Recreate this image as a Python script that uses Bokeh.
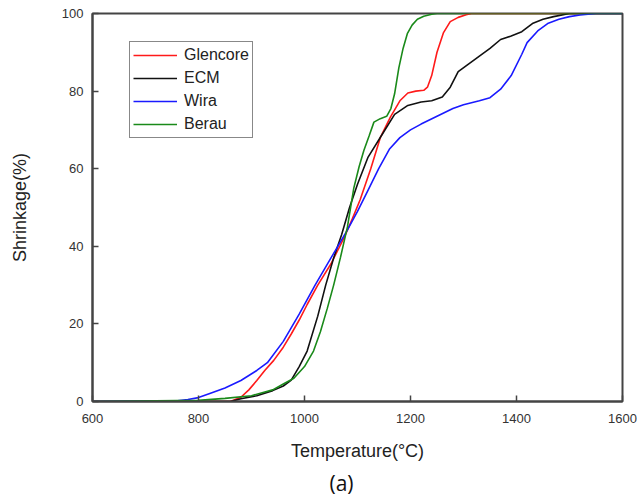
from bokeh.plotting import figure
from bokeh.models import Title, Legend, LegendItem
from bokeh.embed import file_html
from bokeh.resources import INLINE

# ---- data ----
glencore_T = [600, 860, 880, 895, 910, 925, 942, 960, 975, 990, 1005, 1025, 1050, 1075, 1090, 1105,
              1125, 1143, 1162, 1180, 1195, 1210, 1225, 1232, 1240, 1250, 1262, 1275, 1290, 1305, 1315, 1600]
glencore_S = [0, 0, 1.1, 3, 5.4, 8, 10.6, 14, 17.4, 21, 25, 30, 35.5, 42.3, 47, 52,
              60, 68, 73.3, 77.5, 79.5, 80, 80.2, 81, 84, 90, 95, 97.9, 99, 99.7, 100, 100]

ecm_T = [600, 860, 880, 910, 940, 960, 975, 990, 1005, 1025, 1040, 1055, 1070, 1085, 1100, 1120,
         1145, 1170, 1195, 1220, 1240, 1260, 1275, 1290, 1310, 1330, 1350, 1370, 1390, 1410, 1430,
         1450, 1470, 1500, 1600]
ecm_S = [0, 0, 0.7, 1.5, 2.8, 4, 5.5, 9, 13, 22, 30, 37, 43, 50, 56, 63,
         68.5, 74, 76.3, 77.2, 77.5, 78.5, 81, 85, 87, 89, 91, 93.3, 94.2, 95.3, 97.4,
         98.5, 99.2, 100, 100]

wira_T = [600, 760, 780, 800, 820, 850, 880, 910, 930, 960, 990, 1020, 1050, 1080, 1100, 1120,
          1140, 1160, 1180, 1200, 1220, 1250, 1280, 1300, 1330, 1350, 1370, 1390, 1410, 1420,
          1440, 1460, 1480, 1500, 1520, 1550, 1600]
wira_S = [0, 0.2, 0.5, 1.0, 2.0, 3.5, 5.4, 8, 10, 15.5, 22.5, 30, 37, 44, 49, 54.5,
          60, 65, 68, 70, 71.5, 73.5, 75.5, 76.5, 77.5, 78.3, 80.5, 84, 89.5, 92.5,
          95.5, 97.5, 98.5, 99.2, 99.6, 100, 100]

berau_T = [600, 800, 850, 900, 940, 960, 980, 1000, 1017, 1030, 1043, 1055, 1068, 1081, 1093, 1103,
           1112, 1122, 1131, 1143, 1155, 1163, 1170, 1178, 1186, 1194, 1203, 1213, 1225, 1240, 1250, 1600]
berau_S = [0, 0.3, 0.8, 1.5, 3, 4.5, 6, 9, 13, 18, 24, 30, 37.2, 45, 55, 60.5,
           64.7, 68.5, 72, 72.9, 73.5, 75.5, 79.3, 86, 91, 94.8, 97, 98.5, 99.3, 99.8, 100, 100]

series_names = ["Glencore", "ECM", "Wira", "Berau"]
x_ticks = [600, 800, 1000, 1200, 1400, 1600]
y_ticks = [0, 20, 40, 60, 80, 100]

# ---- figure ----
p = figure(width=637, height=499, x_range=(600, 1600), y_range=(0, 100),
           output_backend="svg", toolbar_location=None,
           min_border_left=92, min_border_right=15, min_border_top=13, min_border_bottom=98)

p.grid.visible = False
p.outline_line_color = "#444444"
p.outline_line_width = 2
p.background_fill_color = "white"
p.border_fill_color = "white"

colors = ["#ff1a1a", "#111111", "#1a1aff", "#1a8a1a"]
data = [(glencore_T, glencore_S), (ecm_T, ecm_S), (wira_T, wira_S), (berau_T, berau_S)]
items = []
for name, (tx, sy), c in zip(series_names, data, colors):
    r = p.line(tx, sy, line_color=c, line_width=1.6)
    items.append(LegendItem(label=name, renderers=[r]))

legend = Legend(items=items, location=(37, 263))
legend.border_line_color = "#111111"
legend.border_line_width = 1.5
legend.background_fill_alpha = 1
legend.padding = 3
legend.margin = 0
legend.spacing = 3
legend.glyph_width = 44
legend.glyph_height = 20
legend.label_height = 20
legend.label_standoff = 7
legend.label_text_font = "Liberation Sans"
legend.label_text_font_size = "16px"
legend.label_text_color = "#222222"
p.add_layout(legend)

for ax in (p.xaxis[0], p.yaxis[0]):
    ax.axis_line_color = "#444444"
    ax.axis_line_width = 2
    ax.major_tick_in = 6
    ax.major_tick_out = 0
    ax.minor_tick_in = 4
    ax.minor_tick_out = 0
    ax.major_tick_line_color = "#444444"
    ax.minor_tick_line_color = "#444444"
    ax.major_tick_line_width = 1.5
    ax.minor_tick_line_width = 1.5
    ax.major_label_text_font = "Liberation Sans"
    ax.major_label_text_font_size = "13px"
    ax.major_label_text_color = "#333333"
    ax.axis_label_text_font = "Liberation Sans"
    ax.axis_label_text_font_style = "normal"
    ax.axis_label_text_color = "#222222"
    ax.axis_label_text_font_size = "18px"

p.xaxis.ticker = x_ticks
p.yaxis.ticker = y_ticks
p.xaxis[0].ticker.num_minor_ticks = 2
p.yaxis[0].ticker.num_minor_ticks = 2
p.xaxis.major_label_standoff = 12
p.yaxis.major_label_standoff = 9
p.xaxis.axis_label = "Temperature(\u00b0C)"
p.yaxis.axis_label = "Shrinkage(%)"
p.xaxis.axis_label_standoff = 15
p.yaxis.axis_label_standoff = 29

sub = Title(text="(a)", align="left", offset=237, text_font="Open Sans",
            text_font_size="21px", text_font_style="normal", text_color="#111111", standoff=6)
p.add_layout(sub, "below")

open("out.html", "w").write(file_html(p, INLINE))
